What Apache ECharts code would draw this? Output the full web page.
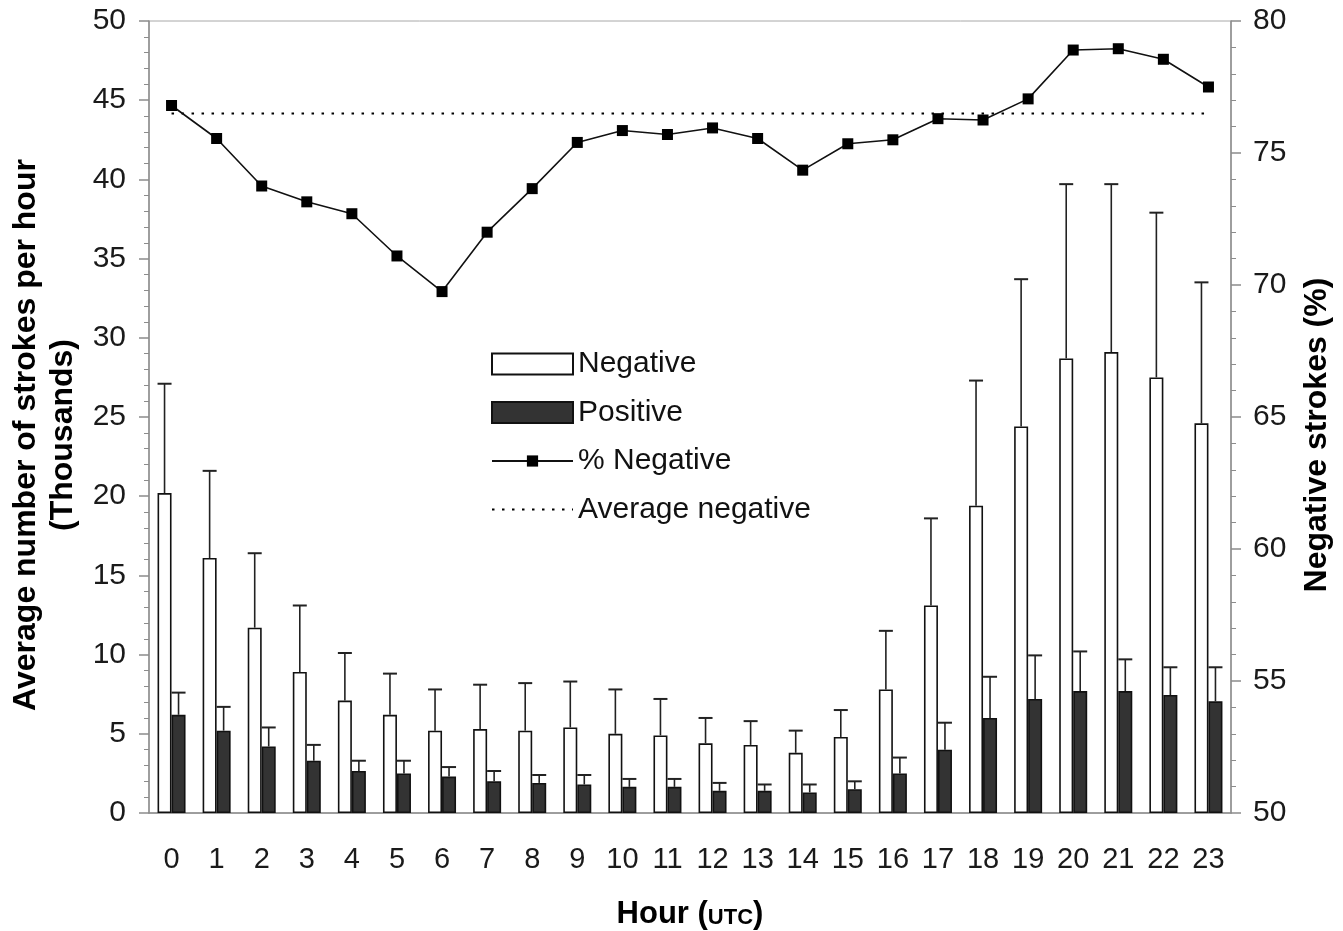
<!DOCTYPE html>
<html>
<head>
<meta charset="utf-8">
<title>Strokes per hour</title>
<script src="https://cdn.jsdelivr.net/npm/echarts@6/dist/echarts.min.js"></script>
<style>
  html, body { margin: 0; padding: 0; background: #fff; }
  #chart { width: 1343px; height: 931px; }
</style>
</head>
<body>
<div id="chart"></div>
<script>
// hour of day (UTC)
var hours = ['0', '1', '2', '3', '4', '5', '6', '7', '8', '9', '10', '11',
  '12', '13', '14', '15', '16', '17', '18', '19', '20', '21', '22', '23'];

// average strokes per hour, thousands
var negative = [20.2, 16.1, 11.7, 8.9, 7.1, 6.2, 5.2, 5.3, 5.2, 5.4, 5.0, 4.9,
  4.4, 4.3, 3.8, 4.8, 7.8, 13.1, 19.4, 24.4, 28.7, 29.1, 27.5, 24.6];
var negativeUpper = [27.1, 21.6, 16.4, 13.1, 10.1, 8.8, 7.8, 8.1, 8.2, 8.3, 7.8, 7.2,
  6.0, 5.8, 5.2, 6.5, 11.5, 18.6, 27.3, 33.7, 39.7, 39.7, 37.9, 33.5];
var positive = [6.2, 5.2, 4.2, 3.3, 2.65, 2.5, 2.3, 2.0, 1.9, 1.8, 1.65, 1.65,
  1.4, 1.4, 1.3, 1.5, 2.5, 4.0, 6.0, 7.2, 7.7, 7.7, 7.45, 7.05];
var positiveUpper = [7.6, 6.7, 5.4, 4.3, 3.3, 3.3, 2.9, 2.65, 2.4, 2.4, 2.15, 2.15,
  1.9, 1.8, 1.8, 2.0, 3.5, 5.7, 8.6, 9.95, 10.2, 9.7, 9.2, 9.2];

// percentage of negative strokes
var pctNegative = [76.8, 75.55, 73.75, 73.15, 72.7, 71.1, 69.75, 72.0, 73.65, 75.4, 75.85, 75.7,
  75.95, 75.55, 74.35, 75.35, 75.5, 76.3, 76.25, 77.05, 78.9, 78.95, 78.55, 77.5];
var avgNegative = 76.5;

var FONT = '"Liberation Sans", Arial, Helvetica, sans-serif';
var BAR_W = 14;
var CAP = 7;
var AXIS_GREY = '#8c8c8c';

function errorBars(values, upper, shift) {
  return {
    type: 'custom',
    z: 4,
    silent: true,
    encode: { x: 0, y: [1, 2] },
    data: values.map(function (v, i) { return [i, v, upper[i]]; }),
    renderItem: function (params, api) {
      var i = api.value(0);
      var base = api.coord([i, api.value(1)]);
      var top = api.coord([i, api.value(2)]);
      var x = base[0] + shift;
      return {
        type: 'group',
        children: [
          { type: 'line', shape: { x1: x, y1: base[1], x2: x, y2: top[1] },
            style: { stroke: '#222', lineWidth: 1.6 } },
          { type: 'line', shape: { x1: x - CAP, y1: top[1], x2: x + CAP, y2: top[1] },
            style: { stroke: '#222', lineWidth: 2 } }
        ]
      };
    }
  };
}

var chart = echarts.init(document.getElementById('chart'));

var option = {
  animation: false,
  backgroundColor: '#fff',
  textStyle: { fontFamily: FONT },
  grid: {
    left: 149, right: 112, top: 21, bottom: 118,
    outerBoundsMode: 'none',
    containLabel: false,
    show: true, borderColor: '#a8a8a8', borderWidth: 1, backgroundColor: 'transparent'
  },
  legend: [
    {
      orient: 'vertical', left: 486, top: 344,
      itemWidth: 81, itemHeight: 21, itemGap: 18.5,
      icon: 'rect',
      textStyle: { fontSize: 30, color: '#111', fontFamily: FONT },
      data: ['Negative', 'Positive']
    },
    {
      orient: 'vertical', left: 486, top: 441,
      itemWidth: 81, itemHeight: 14, itemGap: 18.5,
      textStyle: { fontSize: 30, color: '#111', fontFamily: FONT },
      data: ['% Negative', { name: 'Average negative', itemStyle: { opacity: 0 } }]
    }
  ],
  xAxis: [
    {
      type: 'category',
      data: hours,
      position: 'bottom',
      boundaryGap: true,
      axisLine: { lineStyle: { color: AXIS_GREY, width: 1.5 } },
      axisTick: { interval: 0, length: 10, lineStyle: { color: AXIS_GREY, width: 1.5 } },
      axisLabel: { fontSize: 29, color: '#1a1a1a', margin: 32, interval: 0 },
      name: '{b|Hour (}{s|UTC}{b|)}',
      nameLocation: 'middle',
      nameGap: 86,
      nameTextStyle: {
        rich: {
          b: { fontSize: 31, fontWeight: 'bold', color: '#000', fontFamily: FONT, verticalAlign: 'bottom' },
          s: { fontSize: 22, fontWeight: 'bold', color: '#000', fontFamily: FONT, verticalAlign: 'bottom', padding: [0, 0, 1, 0] }
        }
      }
    },
    {
      type: 'category',
      data: hours,
      position: 'bottom',
      axisLine: { show: false },
      axisTick: { inside: true, interval: 0, length: 9, lineStyle: { color: AXIS_GREY, width: 1.5 } },
      axisLabel: { show: false }
    }
  ],
  yAxis: [
    {
      type: 'value',
      min: 0, max: 50, interval: 5,
      position: 'left',
      axisLine: { show: true, lineStyle: { color: AXIS_GREY, width: 1.5 } },
      axisTick: { show: true, length: 10, lineStyle: { color: AXIS_GREY, width: 1.5 } },
      minorTick: { show: true, splitNumber: 5, length: 5, lineStyle: { color: AXIS_GREY, width: 1 } },
      splitLine: { show: false },
      axisLabel: { fontSize: 30, color: '#1a1a1a', margin: 23 },
      name: 'Average number of strokes per hour\n(Thousands)',
      nameLocation: 'middle',
      nameGap: 66,
      nameTextStyle: {
        fontSize: 32, fontWeight: 'bold', color: '#000', lineHeight: 37,
        padding: [0, 36, 0, 0]
      }
    },
    {
      type: 'value',
      min: 50, max: 80, interval: 5,
      position: 'right',
      axisLine: { show: true, lineStyle: { color: AXIS_GREY, width: 1.5 } },
      axisTick: { show: true, length: 10, lineStyle: { color: AXIS_GREY, width: 1.5 } },
      minorTick: { show: true, splitNumber: 5, length: 5, lineStyle: { color: AXIS_GREY, width: 1 } },
      splitLine: { show: false },
      axisLabel: { fontSize: 30, color: '#1a1a1a', margin: 22 },
      name: 'Negative strokes (%)',
      nameLocation: 'middle',
      nameGap: 70,
      nameTextStyle: {
        fontSize: 32, fontWeight: 'bold', color: '#000',
        padding: [0, 36, 0, 0]
      }
    }
  ],
  series: [
    {
      name: 'Negative',
      type: 'bar',
      data: negative,
      barWidth: BAR_W,
      barGap: '0%',
      itemStyle: { color: '#fff', borderColor: '#111', borderWidth: 1.6 },
      z: 2
    },
    {
      name: 'Positive',
      type: 'bar',
      data: positive,
      barWidth: BAR_W,
      barGap: '0%',
      itemStyle: { color: '#333', borderColor: '#111', borderWidth: 1.6 },
      z: 2
    },
    errorBars(negative, negativeUpper, -BAR_W / 2),
    errorBars(positive, positiveUpper, BAR_W / 2),
    {
      name: '% Negative',
      type: 'line',
      yAxisIndex: 1,
      data: pctNegative,
      symbol: 'rect',
      symbolSize: 11,
      itemStyle: { color: '#000' },
      lineStyle: { color: '#111', width: 1.6 },
      z: 6
    },
    {
      name: 'Average negative',
      type: 'line',
      yAxisIndex: 1,
      data: hours.map(function () { return avgNegative; }),
      symbol: 'none',
      itemStyle: { color: '#000' },
      lineStyle: { color: '#000', width: 2, type: [2.5, 7.5] },
      z: 5
    }
  ]
};

chart.setOption(option);
</script>
</body>
</html>
